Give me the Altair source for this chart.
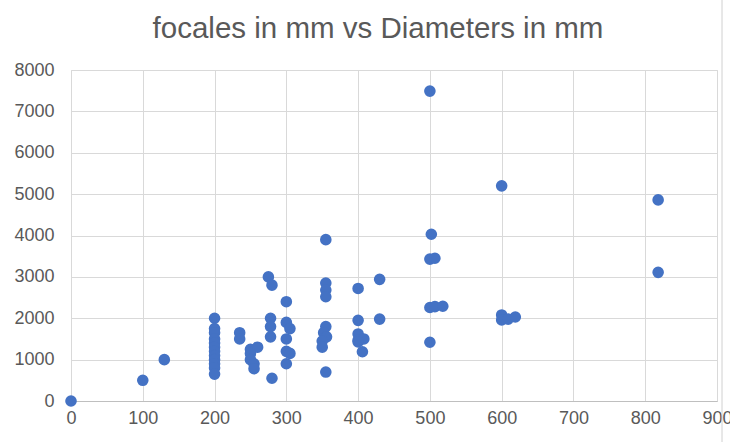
import altair as alt
import pandas as pd

diam = [0, 100, 130,
        200, 200, 200, 200, 200, 200, 200, 200, 200, 200, 200, 200,
        235, 235,
        250, 260, 250, 250, 255, 255,
        275, 280, 300,
        278, 278, 278, 280,
        300, 305, 300, 300, 305, 300,
        355, 355, 355, 355, 355, 352, 356, 350, 350, 355,
        400, 430, 400, 430, 400, 400, 408, 400, 406,
        500, 502, 500, 507, 500, 507, 518, 500,
        600, 600, 600, 609, 619,
        818, 818]
focal = [0, 500, 1000,
         2000, 1750, 1650, 1500, 1400, 1300, 1200, 1100, 1000, 900, 800, 650,
         1650, 1500,
         1250, 1300, 1150, 1000, 900, 780,
         3000, 2800, 2400,
         2000, 1800, 1550, 550,
         1900, 1750, 1500, 1200, 1150, 900,
         3900, 2850, 2680, 2520, 1800, 1650, 1550, 1450, 1300, 700,
         2720, 2940, 1950, 1980, 1620, 1470, 1500, 1430, 1190,
         7490, 4030, 3430, 3450, 2260, 2280, 2290, 1420,
         5200, 2080, 1960, 1980, 2030,
         4860, 3110]

x_ticks = [0, 100, 200, 300, 400, 500, 600, 700, 800, 900]
y_ticks = [0, 1000, 2000, 3000, 4000, 5000, 6000, 7000, 8000]
title_text = ["focales in mm vs Diameters in mm"]

df = pd.DataFrame({"diam": diam, "focal": focal})

points = alt.Chart(df).mark_circle(size=135, opacity=1, color="#4472C4").encode(
    x=alt.X("diam:Q", scale=alt.Scale(domain=[0, 900], nice=False),
            axis=alt.Axis(values=x_ticks, format="d", title=None, grid=True, gridColor="#d9d9d9",
                          domainColor="#bfbfbf", ticks=False, labelPadding=8, labelFlush=False,
                          labelFontSize=18, labelColor="#595959", labelFont="Liberation Sans")),
    y=alt.Y("focal:Q", scale=alt.Scale(domain=[0, 8000], nice=False),
            axis=alt.Axis(values=y_ticks, format="d", title=None, grid=True, gridColor="#d9d9d9",
                          domain=False, ticks=False, labelPadding=17, labelFlush=False,
                          labelFontSize=18, labelColor="#595959", labelFont="Liberation Sans")),
)

border = alt.Chart(pd.DataFrame({"a": [0]})).mark_rule(color="#d0d0d0", strokeWidth=1).encode(
    x=alt.value(651), y=alt.value(-70), y2=alt.value(372)
)

title = alt.Chart(pd.DataFrame({"t": title_text})).mark_text(
    font="Liberation Sans", fontSize=29.5, color="#595959", align="center", baseline="alphabetic"
).encode(text="t:N", x=alt.value(307), y=alt.value(-32))

chart = alt.layer(border, points, title).properties(
    width=646, height=331,
    autosize=alt.AutoSizeParams(type="none"),
    padding={"left": 71, "top": 70, "right": 13, "bottom": 42},
).configure_view(stroke=None).configure(background="white")

chart.save("out.html", embed_options={"renderer": "svg", "actions": False})
